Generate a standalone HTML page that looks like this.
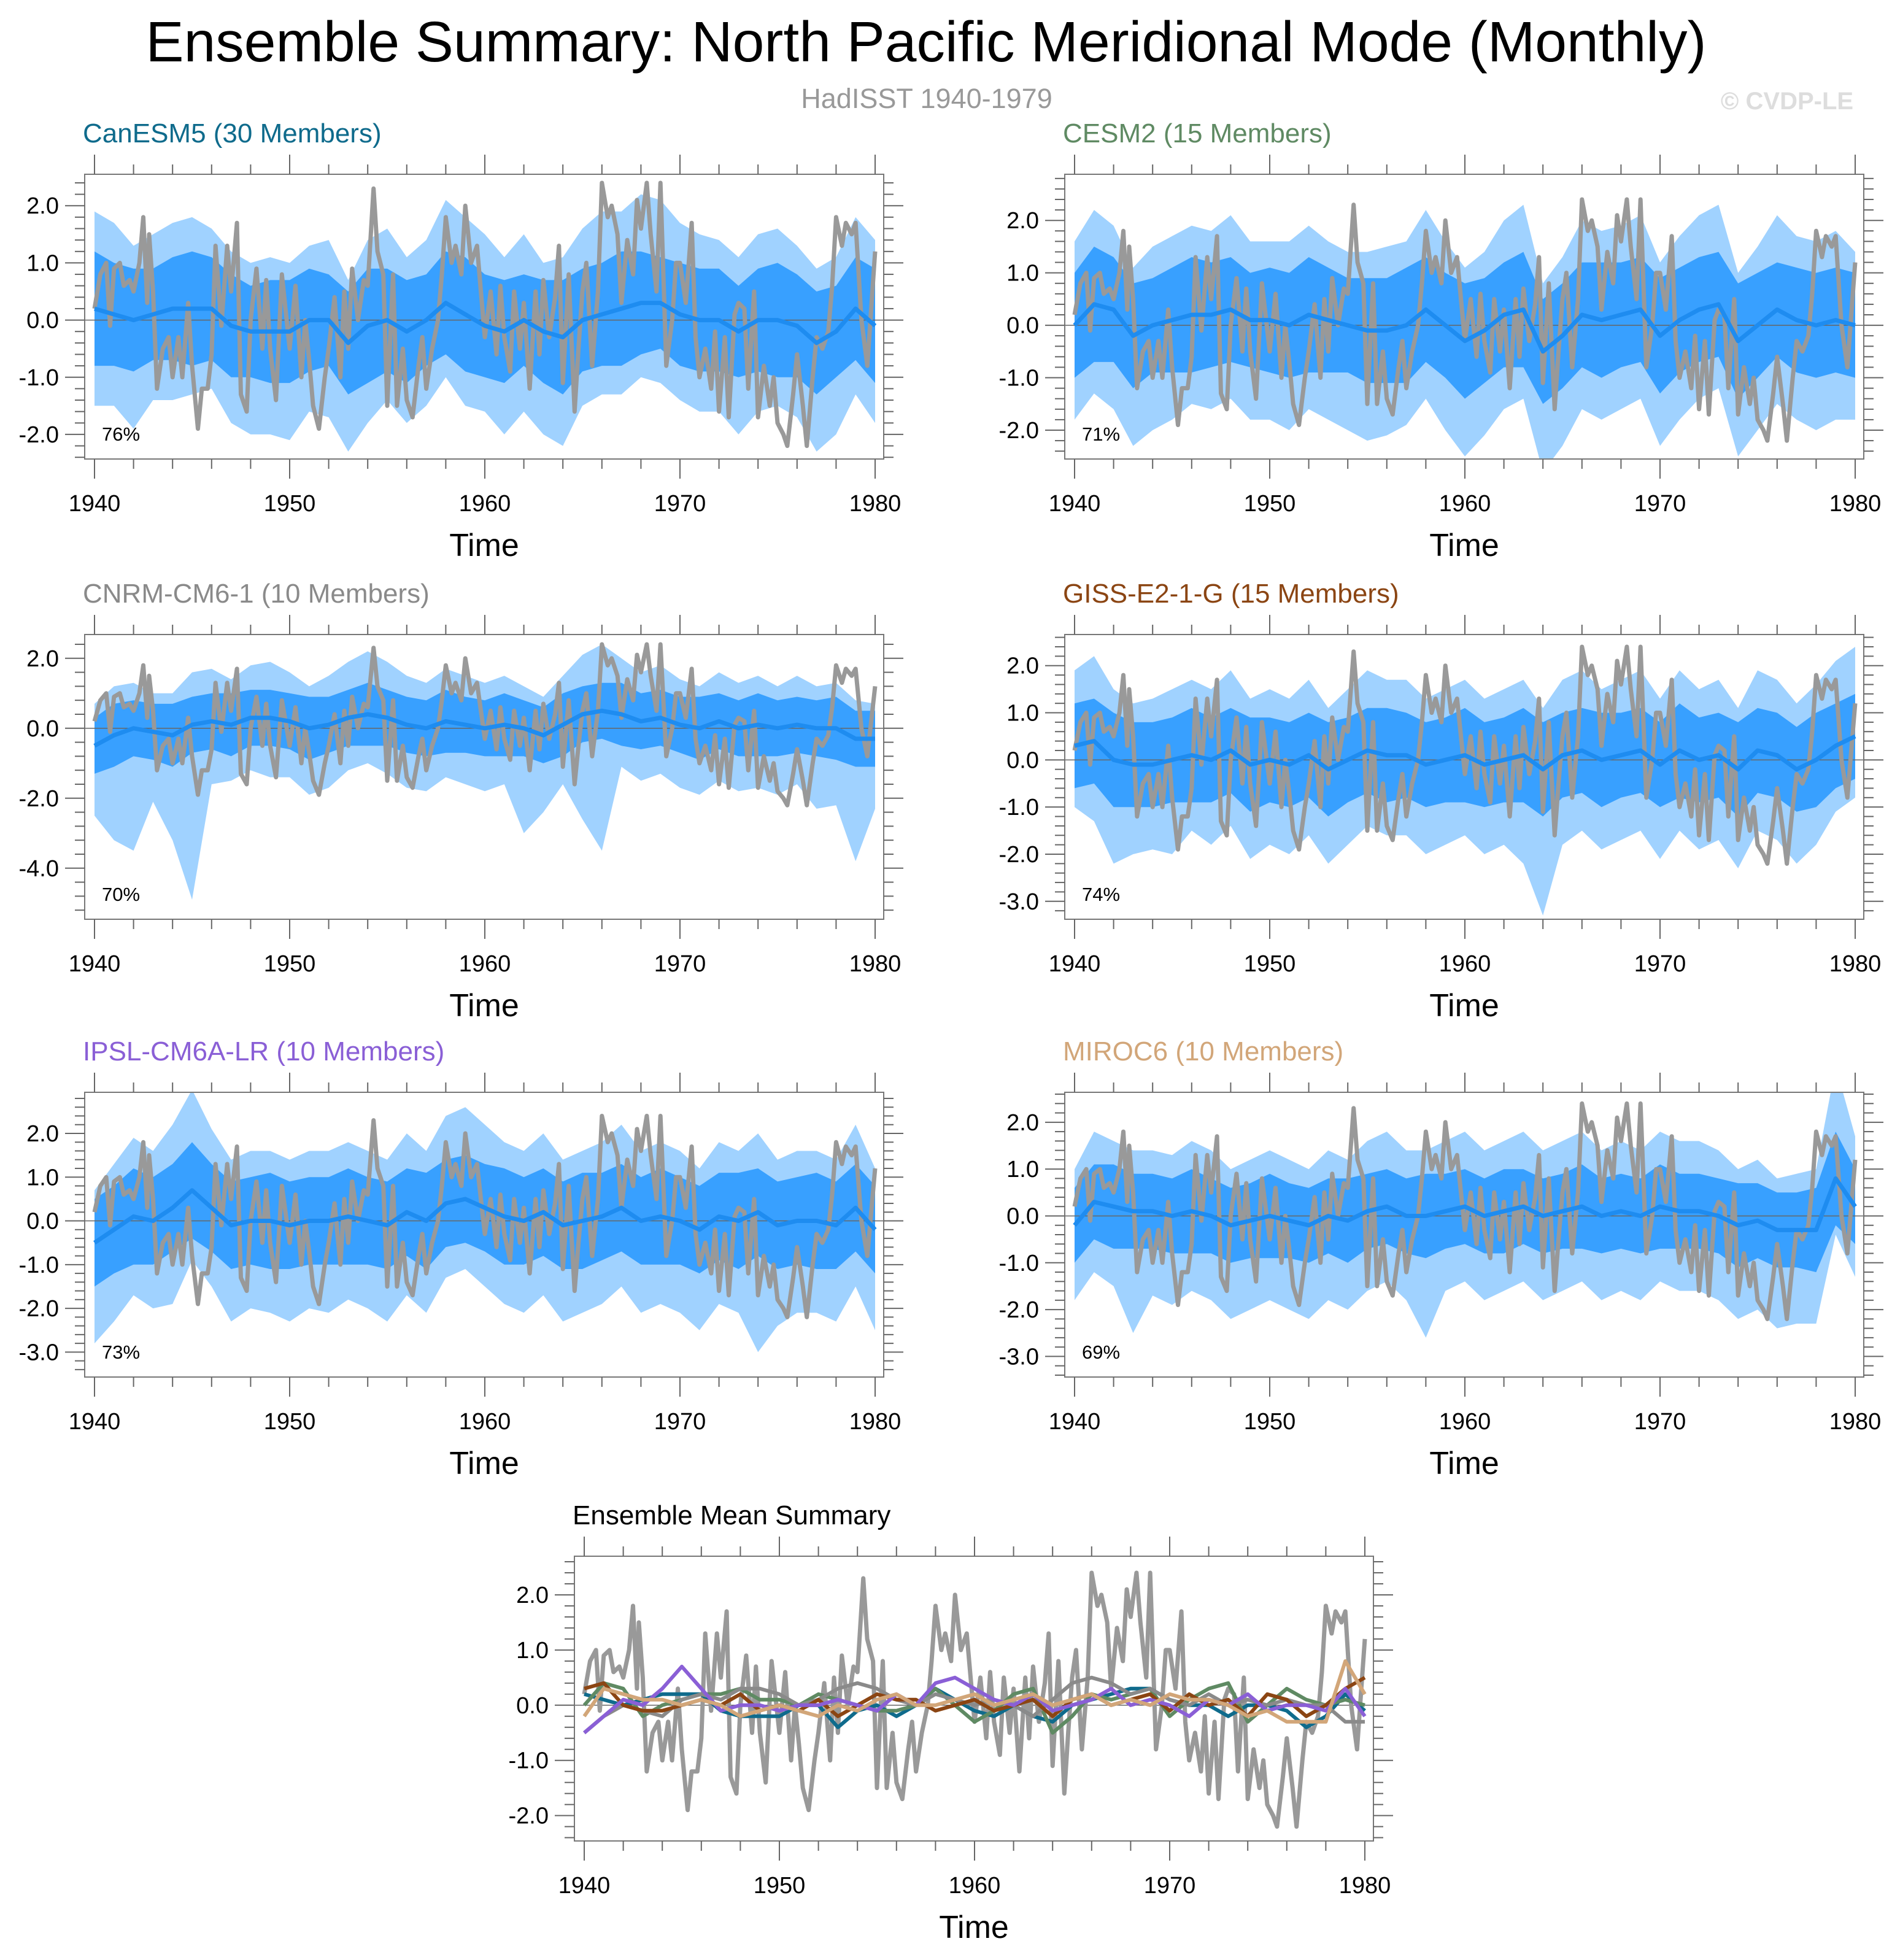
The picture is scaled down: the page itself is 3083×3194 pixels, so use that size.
<!DOCTYPE html>
<html><head><meta charset="utf-8"><style>
html,body{margin:0;padding:0;background:#fff;}
svg{display:block;font-family:"Liberation Sans",sans-serif;}
</style></head><body>
<svg id="chart" xmlns="http://www.w3.org/2000/svg" width="3083" height="3194" viewBox="0 0 3083 3194">
<rect width="3083" height="3194" fill="#fff"/>
<text x="1509" y="100" font-size="93" text-anchor="middle" fill="#000">Ensemble Summary: North Pacific Meridional Mode (Monthly)</text>
<text x="1510" y="176" font-size="45" text-anchor="middle" fill="#999">HadISST 1940-1979</text>
<text x="2912" y="178" font-size="40" font-weight="bold" text-anchor="middle" fill="#ddd">© CVDP-LE</text>
</svg>
<script>
// Observed HadISST series (time in years, value)
const obsYears = [1940.0,1940.3,1940.6,1940.8,1941.0,1941.3,1941.5,1941.8,1942.0,1942.3,1942.5,1942.7,1942.8,1943.0,1943.2,1943.5,1943.8,1944.0,1944.3,1944.5,1944.8,1945.0,1945.3,1945.5,1945.8,1946.0,1946.2,1946.5,1946.8,1947.0,1947.3,1947.5,1947.8,1948.0,1948.3,1948.6,1948.8,1949.0,1949.3,1949.6,1950.0,1950.3,1950.6,1950.8,1951.0,1951.2,1951.5,1951.8,1952.0,1952.3,1952.6,1952.8,1953.0,1953.2,1953.5,1953.8,1954.0,1954.3,1954.5,1954.8,1955.0,1955.3,1955.5,1955.8,1956.0,1956.3,1956.6,1956.8,1957.0,1957.3,1957.6,1957.8,1958.0,1958.3,1958.5,1958.8,1959.0,1959.3,1959.6,1959.8,1960.0,1960.3,1960.6,1960.8,1961.0,1961.3,1961.5,1961.8,1962.0,1962.3,1962.6,1962.8,1963.0,1963.3,1963.6,1963.8,1964.0,1964.3,1964.6,1964.8,1965.0,1965.2,1965.5,1965.8,1966.0,1966.3,1966.5,1966.8,1967.0,1967.3,1967.6,1967.8,1968.0,1968.3,1968.5,1968.8,1969.0,1969.3,1969.6,1969.8,1970.0,1970.3,1970.6,1970.8,1971.0,1971.3,1971.6,1971.8,1972.0,1972.3,1972.5,1972.8,1973.0,1973.3,1973.5,1973.8,1974.0,1974.3,1974.6,1974.8,1975.0,1975.3,1975.5,1975.8,1976.0,1976.3,1976.5,1976.8,1977.0,1977.3,1977.6,1977.8,1978.0,1978.3,1978.5,1978.8,1979.0,1979.3,1979.6,1979.8,1980.0];
const obsValues = [0.2,0.8,1.0,-0.1,0.9,1.0,0.6,0.7,0.5,1.0,1.8,0.3,1.5,0.5,-1.2,-0.5,-0.3,-1.0,-0.3,-1.0,0.3,-0.8,-1.9,-1.2,-1.2,-0.6,1.3,-0.1,1.3,0.5,1.7,-1.3,-1.6,0.0,0.9,-0.5,0.7,-0.5,-1.4,0.8,-0.5,0.6,-1.0,0.0,-0.7,-1.5,-1.9,-1.0,-0.5,0.4,-1.0,0.5,-0.5,0.9,0.0,0.7,0.6,2.3,1.2,0.8,-1.5,0.8,-1.5,-0.5,-1.4,-1.7,-0.8,-0.3,-1.2,-0.5,0.0,0.8,1.8,1.0,1.3,0.8,2.0,1.0,1.3,0.5,-0.3,0.5,-0.6,0.6,-0.3,-0.9,0.5,-0.5,0.3,-1.2,0.5,-0.6,0.7,-0.3,0.4,1.3,-1.1,0.8,-1.6,-0.5,0.5,1.0,-0.8,0.5,2.4,1.8,2.0,1.5,0.3,1.4,0.8,2.1,1.6,2.4,1.5,0.5,2.4,-0.8,0.0,1.0,1.0,0.3,1.7,-0.3,-1.0,-0.5,-1.2,-0.2,-1.6,-0.3,-1.7,0.1,0.3,0.2,-1.2,0.5,-1.7,-0.8,-1.5,-1.0,-1.8,-2.0,-2.2,-1.3,-0.6,-1.5,-2.2,-1.0,-0.3,-0.5,-0.2,0.6,1.8,1.3,1.7,1.5,1.7,0.0,-0.8,0.2,1.2];
// Ensemble years (1940..1980)
const ensYears = [1940,1941,1942,1943,1944,1945,1946,1947,1948,1949,1950,1951,1952,1953,1954,1955,1956,1957,1958,1959,1960,1961,1962,1963,1964,1965,1966,1967,1968,1969,1970,1971,1972,1973,1974,1975,1976,1977,1978,1979,1980];
// CanESM5
const canMean = [0.2,0.1,0.0,0.1,0.2,0.2,0.2,-0.1,-0.2,-0.2,-0.2,0.0,0.0,-0.4,-0.1,0.0,-0.2,0.0,0.3,0.1,-0.1,-0.2,0.0,-0.2,-0.3,0.0,0.1,0.2,0.3,0.3,0.1,0.0,0.0,-0.2,0.0,0.0,-0.1,-0.4,-0.2,0.2,-0.1];
const canInner = [1.0,0.9,0.9,0.8,0.9,1.0,0.9,0.9,0.8,0.9,0.9,0.9,0.8,0.9,1.0,0.9,0.9,0.8,0.9,1.0,0.9,0.9,0.8,0.9,1.0,0.9,0.9,1.0,0.9,0.8,0.9,0.9,0.9,0.8,0.9,1.0,0.9,0.9,0.8,0.9,1.0];
const canHigh = [1.7,1.6,1.3,1.4,1.5,1.6,1.4,1.3,1.2,1.3,1.2,1.3,1.4,1.1,1.5,1.6,1.3,1.4,1.8,1.7,1.6,1.3,1.5,1.2,1.4,1.6,1.8,1.7,1.9,1.8,1.6,1.5,1.4,1.3,1.5,1.6,1.4,1.3,1.3,1.6,1.5];
const canLow = [-1.7,-1.6,-1.9,-1.5,-1.6,-1.5,-1.4,-1.7,-1.8,-1.8,-1.9,-1.6,-1.7,-1.9,-1.7,-1.4,-1.6,-1.5,-1.3,-1.6,-1.5,-1.8,-1.6,-1.8,-1.9,-1.5,-1.4,-1.5,-1.3,-1.4,-1.5,-1.6,-1.6,-1.8,-1.6,-1.5,-1.6,-1.9,-1.8,-1.5,-1.7];
// CESM2
const cesMean = [0.0,0.4,0.3,-0.2,0.0,0.1,0.2,0.2,0.3,0.1,0.1,0.0,0.2,0.1,0.0,-0.1,-0.1,0.0,0.3,0.0,-0.3,-0.1,0.2,0.3,-0.5,-0.2,0.2,0.1,0.2,0.3,-0.2,0.1,0.3,0.4,-0.3,0.0,0.3,0.1,0.0,0.1,0.0];
const cesInner = [1.0,1.1,1.0,1.0,0.9,1.0,1.1,1.0,1.0,0.9,1.0,1.0,1.1,1.0,0.9,1.0,1.0,1.1,1.0,1.0,1.1,1.0,1.0,1.1,1.0,1.0,1.0,1.1,1.0,1.0,1.1,1.0,1.0,1.0,1.1,1.0,0.9,1.0,1.0,1.0,1.0];
const cesHigh = [1.6,1.8,1.6,1.3,1.5,1.6,1.7,1.6,1.8,1.5,1.5,1.6,1.7,1.5,1.4,1.5,1.6,1.6,1.9,1.6,1.4,1.5,1.8,2.0,1.3,1.5,1.8,1.7,1.7,1.8,1.4,1.6,1.8,1.9,1.3,1.5,1.8,1.6,1.6,1.7,1.4];
const cesLow = [-1.8,-1.7,-1.9,-2.1,-2.0,-1.9,-1.7,-1.8,-1.7,-1.9,-1.9,-2.0,-1.8,-1.9,-2.0,-2.1,-2.0,-1.9,-1.7,-2.0,-2.2,-2.0,-1.8,-1.7,-2.3,-2.1,-1.8,-1.9,-1.8,-1.7,-2.1,-1.9,-1.7,-1.6,-2.2,-2.0,-1.8,-1.9,-2.0,-1.9,-1.8];
// CNRM-CM6-1
const cnrMean = [-0.5,-0.2,0.0,-0.1,-0.2,0.1,0.2,0.1,0.3,0.3,0.2,0.0,0.1,0.3,0.4,0.3,0.1,0.0,0.2,0.1,0.0,0.1,0.0,-0.2,0.1,0.4,0.5,0.4,0.2,0.3,0.1,0.0,0.2,0.0,0.1,0.0,0.1,0.0,0.0,-0.3,-0.3];
const cnrInner = [0.8,0.9,0.8,0.8,0.9,0.8,0.8,0.9,0.8,0.8,0.8,0.9,0.8,0.8,0.9,0.8,0.8,0.8,0.9,0.8,0.8,0.9,0.8,0.8,0.9,0.8,0.8,0.9,0.8,0.8,0.8,0.9,0.8,0.8,0.9,0.8,0.8,0.8,0.9,0.8,0.8];
const cnrHigh = [1.2,1.4,1.3,1.1,1.2,1.5,1.5,1.3,1.5,1.6,1.4,1.2,1.4,1.6,1.8,1.6,1.4,1.3,1.5,1.4,1.3,1.4,1.2,1.1,1.4,1.7,1.9,1.6,1.4,1.5,1.3,1.2,1.4,1.3,1.4,1.2,1.4,1.2,1.3,1.1,1.0];
const cnrLow = [-2.0,-3.0,-3.5,-2.0,-3.0,-5.0,-1.8,-1.6,-1.5,-1.7,-1.6,-1.9,-1.8,-1.5,-1.4,-1.6,-1.8,-1.8,-1.6,-1.7,-1.8,-1.7,-3.0,-2.2,-1.7,-3.0,-4.0,-1.5,-1.7,-1.6,-1.8,-1.9,-1.7,-1.8,-1.8,-1.9,-1.7,-2.3,-2.2,-3.5,-2.0];
// GISS-E2-1-G
const gisMean = [0.3,0.4,0.0,-0.1,-0.1,0.0,0.1,0.0,0.2,-0.1,0.0,-0.1,0.1,-0.2,0.0,0.2,0.1,0.1,-0.1,0.0,0.1,-0.1,0.0,0.1,-0.2,0.1,0.2,0.0,0.1,0.2,-0.1,0.2,0.0,0.1,-0.2,0.2,0.1,-0.2,0.0,0.3,0.5];
const gisInner = [0.9,0.9,1.0,0.9,0.9,0.9,1.0,0.9,0.9,1.0,0.9,0.9,0.9,1.0,0.9,0.9,1.0,0.9,0.9,0.9,1.0,0.9,0.9,1.0,1.0,0.9,0.9,1.0,0.9,0.9,0.9,1.0,0.9,0.9,1.0,0.9,0.9,0.9,1.0,0.9,0.9];
const gisHigh = [1.6,1.8,1.5,1.3,1.4,1.5,1.6,1.5,1.7,1.4,1.5,1.4,1.6,1.3,1.5,1.7,1.6,1.6,1.4,1.5,1.6,1.4,1.5,1.6,1.3,1.6,1.7,1.5,1.6,1.7,1.4,1.7,1.5,1.6,1.3,1.7,1.6,1.4,1.6,1.8,1.9];
const gisLow = [-1.3,-1.7,-2.2,-1.9,-1.8,-2.0,-1.6,-1.8,-1.6,-2.0,-1.8,-1.9,-1.7,-2.0,-1.8,-1.6,-1.7,-1.7,-1.9,-1.8,-1.7,-1.9,-1.8,-2.3,-3.1,-1.9,-1.7,-1.9,-1.8,-1.7,-2.0,-1.7,-1.9,-1.8,-2.1,-1.7,-1.8,-2.0,-1.8,-1.4,-1.3];
// IPSL-CM6A-LR
const ipsMean = [-0.5,-0.2,0.1,0.0,0.3,0.7,0.3,-0.1,0.0,0.0,-0.1,0.0,0.0,0.1,0.0,-0.1,0.2,0.0,0.4,0.5,0.3,0.1,0.0,0.2,-0.1,0.0,0.1,0.3,0.0,0.1,0.0,-0.2,0.1,0.0,0.2,-0.1,0.0,0.0,-0.1,0.3,-0.2];
const ipsInner = [1.0,1.0,1.1,1.0,1.0,1.1,1.0,1.0,1.0,1.1,1.0,1.0,1.0,1.1,1.0,1.0,1.0,1.1,1.0,1.0,1.0,1.1,1.0,1.0,1.0,1.1,1.0,1.0,1.0,1.1,1.0,1.0,1.0,1.1,1.0,1.0,1.0,1.1,1.0,1.0,1.0];
const ipsHigh = [1.2,1.5,1.8,1.6,1.9,2.3,1.8,1.5,1.6,1.6,1.5,1.6,1.6,1.7,1.6,1.5,1.8,1.6,2.0,2.1,1.9,1.7,1.6,1.8,1.5,1.6,1.7,1.9,1.6,1.7,1.6,1.4,1.7,1.6,1.8,1.5,1.6,1.6,1.5,1.9,1.4];
const ipsLow = [-2.3,-2.1,-1.8,-2.0,-2.2,-1.6,-1.8,-2.2,-2.0,-2.1,-2.2,-2.0,-2.1,-1.9,-2.0,-2.2,-1.9,-2.1,-1.7,-1.6,-1.8,-2.0,-2.1,-1.9,-2.2,-2.1,-2.0,-1.8,-2.1,-2.0,-2.1,-2.3,-2.0,-2.1,-3.2,-2.3,-2.1,-2.1,-2.2,-1.8,-2.3];
// MIROC6
const mirMean = [-0.2,0.3,0.2,0.1,0.1,0.0,0.1,0.0,-0.2,-0.1,0.0,-0.1,-0.2,0.0,-0.1,0.1,0.2,0.0,0.0,0.1,0.2,0.0,0.1,0.2,0.0,0.1,0.2,0.0,0.1,0.0,0.2,0.1,0.1,0.0,-0.2,-0.1,-0.3,-0.3,-0.3,0.8,0.2];
const mirInner = [0.8,0.8,0.9,0.8,0.8,0.8,0.9,0.8,0.8,0.8,0.9,0.8,0.8,0.8,0.9,0.8,0.8,0.8,0.9,0.8,0.8,0.8,0.9,0.8,0.8,0.8,0.9,0.8,0.8,0.8,0.9,0.8,0.8,0.8,0.9,0.8,0.8,0.8,0.9,1.0,0.8];
const mirHigh = [1.2,1.5,1.4,1.3,1.3,1.3,1.5,1.4,1.2,1.3,1.4,1.3,1.2,1.4,1.3,1.5,1.6,1.4,1.4,1.5,1.6,1.4,1.5,1.6,1.4,1.5,1.6,1.4,1.5,1.4,1.6,1.5,1.5,1.4,1.2,1.3,1.1,1.2,1.3,2.4,1.5];
const mirLow = [-1.6,-1.5,-1.7,-2.6,-1.8,-1.9,-1.7,-1.8,-2.0,-1.9,-1.8,-1.9,-2.0,-1.8,-1.9,-1.7,-1.6,-1.8,-2.6,-1.7,-1.6,-1.8,-1.7,-1.6,-1.8,-1.7,-1.6,-1.8,-1.7,-1.8,-1.6,-1.7,-1.7,-1.8,-2.0,-1.9,-2.1,-2.0,-2.0,-1.2,-1.5];

const NS = 'http://www.w3.org/2000/svg';
const svg = document.getElementById('chart');
function mk(tag, attrs, parent){
  const e = document.createElementNS(NS, tag);
  for (const k in attrs) e.setAttribute(k, attrs[k]);
  (parent||svg).appendChild(e);
  return e;
}
const W = 1302, H = 464;
const panels = [
  {name:'canesm5', title:'CanESM5 (30 Members)', color:'#0f6b8c', bx:138, by:284, top:2.55, bot:-2.43, ticks:[-2,-1,0,1,2], minor:0.2, pct:'76%', mean:canMean, inner:canInner, hi:canHigh, lo:canLow},
  {name:'cesm2', title:'CESM2 (15 Members)', color:'#5f8a63', bx:1735, by:284, top:2.88, bot:-2.55, ticks:[-2,-1,0,1,2], minor:0.2, pct:'71%', mean:cesMean, inner:cesInner, hi:cesHigh, lo:cesLow},
  {name:'cnrm-cm6-1', title:'CNRM-CM6-1 (10 Members)', color:'#8a8a8a', bx:138, by:1034, top:2.68, bot:-5.46, ticks:[-4,-2,0,2], minor:0.4, pct:'70%', mean:cnrMean, inner:cnrInner, hi:cnrHigh, lo:cnrLow},
  {name:'giss-e2-1-g', title:'GISS-E2-1-G (15 Members)', color:'#8b4513', bx:1735, by:1034, top:2.66, bot:-3.38, ticks:[-3,-2,-1,0,1,2], minor:0.2, pct:'74%', mean:gisMean, inner:gisInner, hi:gisHigh, lo:gisLow},
  {name:'ipsl-cm6a-lr', title:'IPSL-CM6A-LR (10 Members)', color:'#8a5fd6', bx:138, by:1780, top:2.94, bot:-3.57, ticks:[-3,-2,-1,0,1,2], minor:0.2, pct:'73%', mean:ipsMean, inner:ipsInner, hi:ipsHigh, lo:ipsLow},
  {name:'miroc6', title:'MIROC6 (10 Members)', color:'#d2a679', bx:1735, by:1780, top:2.64, bot:-3.44, ticks:[-3,-2,-1,0,1,2], minor:0.2, pct:'69%', mean:mirMean, inner:mirInner, hi:mirHigh, lo:mirLow}
];
const xTicks = [1940,1950,1960,1970,1980];

function axes(p, idx){
  const xs = yr => p.bx + 16 + (yr-1940)*31.8;
  const ys = v => p.by + (p.top - v)/(p.top - p.bot)*H;
  const g = mk('g', {});
  
  
  const clipId = 'clip' + idx;
  const cp = mk('clipPath', {id:clipId}, g);
  mk('rect', {x:p.bx, y:p.by, width:W, height:H}, cp);
  const plot = mk('g', {'clip-path':'url(#'+clipId+')'}, g);
  return {xs, ys, g, plot};
}
function frame(p, a){
  const g = a.g;
  const box = mk('rect', {x:p.bx, y:p.by, width:W, height:H, fill:'none', stroke:'#777', 'stroke-width':2}, g);
  
  
  for (let yr=1940; yr<=1980; yr+=2){
    const x = a.xs(yr);
    const maj = (yr % 10 === 0);
    const L = maj ? 32 : 16;
    mk('line', {x1:x, x2:x, y1:p.by, y2:p.by-L, stroke:'#666', 'stroke-width':2}, g);
    mk('line', {x1:x, x2:x, y1:p.by+H, y2:p.by+H+L, stroke:'#666', 'stroke-width':2}, g);
  }
  xTicks.forEach(yr => {
    const t = mk('text', {x:a.xs(yr), y:p.by+H+85, 'font-size':38, 'text-anchor':'middle', fill:'#000'}, g);
    t.textContent = String(yr);
    
    
  });
  const xt = mk('text', {x:p.bx+W/2, y:p.by+H+158, 'font-size':52, 'text-anchor':'middle', fill:'#000'}, g);
  xt.textContent = 'Time';
  
  
  const lo = Math.ceil(p.bot/p.minor), hi = Math.floor(p.top/p.minor);
  for (let k=lo; k<=hi; k++){
    const v = k*p.minor;
    const y = a.ys(v);
    const maj = p.ticks.some(t => Math.abs(t-v) < 1e-6);
    const L = maj ? 32 : 16;
    mk('line', {x1:p.bx, x2:p.bx-L, y1:y, y2:y, stroke:'#666', 'stroke-width':2}, g);
    mk('line', {x1:p.bx+W, x2:p.bx+W+L, y1:y, y2:y, stroke:'#666', 'stroke-width':2}, g);
  }
  p.ticks.forEach(v => {
    const t = mk('text', {x:p.bx-42, y:a.ys(v)+13, 'font-size':38, 'text-anchor':'end', fill:'#000'}, g);
    t.textContent = v.toFixed(1);
    
    
  });
  const tt = mk('text', {x:p.bx-3, y:p.by-52, 'font-size':44, fill:p.color}, g);
  tt.textContent = p.title;
  
  
}
function linePath(xsArr, vals, a){
  return xsArr.map((x,i) => (i?'L':'M') + a.xs(x).toFixed(1) + ' ' + a.ys(vals[i]).toFixed(1)).join(' ');
}
function obsLine(a, parent){
  const o = mk('path', {d:linePath(obsYears, obsValues, a), fill:'none', stroke:'#999', 'stroke-width':7, 'stroke-linejoin':'round'}, parent);
  
  
}

panels.forEach((p, idx) => {
  const a = axes(p, idx);
  let d = ensYears.map((yr,i) => (i?'L':'M') + a.xs(yr).toFixed(1) + ' ' + a.ys(p.mean[i]+p.hi[i]).toFixed(1)).join(' ');
  for (let i=ensYears.length-1; i>=0; i--) d += ' L' + a.xs(ensYears[i]).toFixed(1) + ' ' + a.ys(p.mean[i]+p.lo[i]).toFixed(1);
  const ob = mk('path', {d:d+' Z', fill:'#a0d2ff'}, a.plot);
  
  
  let d2 = ensYears.map((yr,i) => (i?'L':'M') + a.xs(yr).toFixed(1) + ' ' + a.ys(p.mean[i]+p.inner[i]).toFixed(1)).join(' ');
  for (let i=ensYears.length-1; i>=0; i--) d2 += ' L' + a.xs(ensYears[i]).toFixed(1) + ' ' + a.ys(p.mean[i]-p.inner[i]).toFixed(1);
  const ib = mk('path', {d:d2+' Z', fill:'#38a0ff'}, a.plot);
  
  
  mk('line', {x1:p.bx, x2:p.bx+W, y1:a.ys(0), y2:a.ys(0), stroke:'#666', 'stroke-width':1.5}, a.plot);
  obsLine(a, a.plot);
  const ml = mk('path', {d:linePath(ensYears, p.mean, a), fill:'none', stroke:'#1e8cf0', 'stroke-width':7, 'stroke-linejoin':'round'}, a.plot);
  
  
  const pt = mk('text', {x:p.bx+28, y:p.by+434, 'font-size':31, fill:'#000'}, a.g);
  pt.textContent = p.pct;
  
  
  frame(p, a);
});

const sp = {name:'ensemble-mean-summary', title:'Ensemble Mean Summary', color:'#000', bx:936, by:2536, top:2.70, bot:-2.46, ticks:[-2,-1,0,1,2], minor:0.2};
const sa = axes(sp, 9);
mk('line', {x1:sp.bx, x2:sp.bx+W, y1:sa.ys(0), y2:sa.ys(0), stroke:'#666', 'stroke-width':1.5}, sa.plot);
obsLine(sa, sa.plot);
panels.forEach(p => {
  const l = mk('path', {d:linePath(ensYears, p.mean, sa), fill:'none', stroke:p.color, 'stroke-width':6, 'stroke-linejoin':'round'}, sa.plot);
  
  
});
frame(sp, sa);
</script>
</body></html>
